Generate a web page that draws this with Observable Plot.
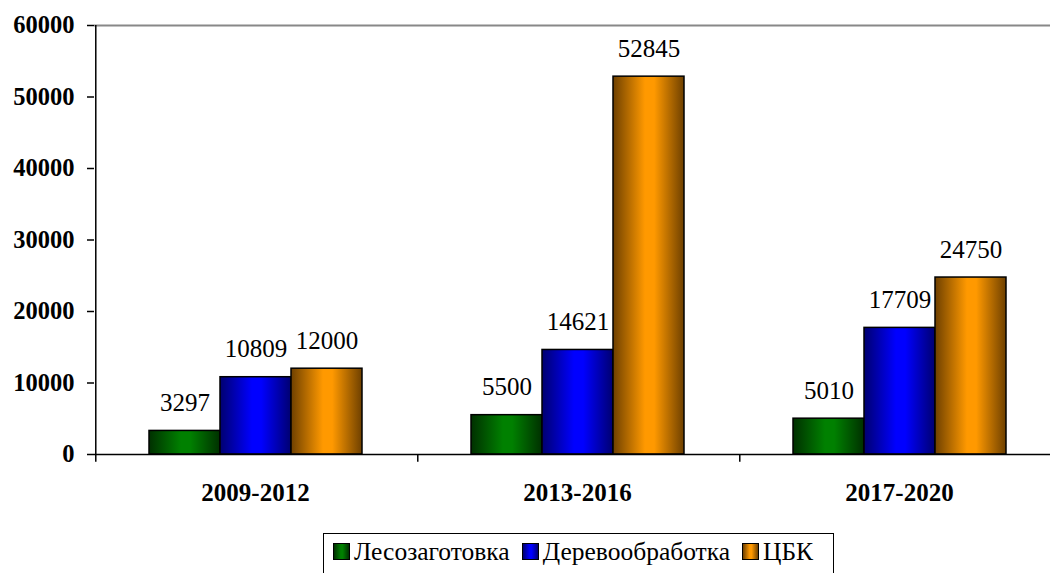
<!DOCTYPE html>
<html>
<head>
<meta charset="utf-8">
<script src="https://cdn.jsdelivr.net/npm/d3@7"></script>
<script src="https://cdn.jsdelivr.net/npm/@observablehq/plot@0.6"></script>
<style>
  html, body { margin: 0; padding: 0; background: #fff; overflow: hidden; width: 1050px; height: 573px; font-family: 'Liberation Serif', serif; }
  #chart svg { display: block; overflow: hidden; }
  #chart svg, #chart svg text { font-family: 'Liberation Serif', serif !important; }
  #legend {
    position: absolute; left: 323px; top: 533px; width: 511px; height: 50px;
    border: 1.5px solid #000; box-sizing: border-box;
    font-family: 'Liberation Serif', serif !important; font-size: 25.5px; line-height: 1; color: #000;
    display: flex; align-items: flex-start; padding: 5px 0 0 9px; gap: 12px; white-space: nowrap;
  }
  #legend .item { display: flex; align-items: center; gap: 4px; }
  #legend .sw { width: 17px; height: 17px; border: 1.5px solid #000; box-sizing: border-box; }
</style>
</head>
<body>
<div id="chart"></div>
<div id="legend"></div>
<script>
const periods = ["2009-2012", "2013-2016", "2017-2020"];
const series = ["Лесозаготовка", "Деревообработка", "ЦБК"];
const lesozagotovka = [3297, 5500, 5010];
const derevoobrabotka = [10809, 14621, 17709];
const cbk = [12000, 52845, 24750];
const yTicks = [0, 10000, 20000, 30000, 40000, 50000, 60000];
const gradIds = ["gGreen", "gBlue", "gOrange"];
const gradColors = [["#003000", "#008000"], ["#000070", "#0000ff"], ["#6e4000", "#ff9900"]];

const values = [lesozagotovka, derevoobrabotka, cbk];
const data = [];
periods.forEach((p, i) => series.forEach((s, j) => data.push({period: p, series: s, value: values[j][i]})));

const width = 1050, marginLeft = 93, marginRight = -10;
const facetW = (width - marginLeft - marginRight) / periods.length;
const padOuter = 0.74;
const step = facetW / (series.length + 2 * padOuter);
const edgeDx = -(step * padOuter + step / 2);

const fillFor = new Map(series.map((s, j) => [s, `url(#${gradIds[j]})`]));
const serif = "'Liberation Serif', serif";

const chart = Plot.plot({
  width, height: 520,
  marginLeft, marginRight, marginTop: 25, marginBottom: 66,
  style: {fontFamily: serif, background: "#fff", color: "#000"},
  fx: {domain: periods, padding: 0, label: null},
  x: {domain: series, paddingInner: 0, paddingOuter: padOuter, axis: null},
  y: {domain: [0, 60000], ticks: yTicks, label: null},
  marks: [
    Plot.ruleY([60000], {stroke: "#888", strokeWidth: 2}),
    Plot.axisY({ticks: yTicks, tickSize: 7, tickPadding: 13, tickFormat: d => String(d), fontSize: 24.5, fontWeight: "bold", label: null, stroke: "#000", strokeWidth: 1.5}),
    Plot.axisFx({anchor: "bottom", tickSize: 0, tickPadding: 29, fontSize: 25, fontWeight: "bold", label: null}),
    Plot.barY(data, {fx: "period", x: "series", y: "value", fill: d => fillFor.get(d.series), stroke: "#000", strokeWidth: 1.5}),
    Plot.ruleY([0], {stroke: "#000", strokeWidth: 1.5}),
    Plot.ruleX(periods, {fx: d => d, x: () => series[0], y1: 0, y2: -1100, dx: edgeDx, stroke: "#000", strokeWidth: 1.5}),
    Plot.ruleX([periods[0]], {fx: d => d, x: () => series[0], y1: 0, y2: 60000, dx: edgeDx, stroke: "#000", strokeWidth: 1.5}),
    Plot.text(data, {fx: "period", x: "series", y: "value", text: d => String(d.value), lineAnchor: "bottom", dy: -20, fontSize: 25, fill: "#000"})
  ]
});

const svg = d3.select(chart.tagName.toLowerCase() === "svg" ? chart : chart.querySelector("svg"));
svg.attr("font-family", serif);
const defs = svg.insert("defs", ":first-child");
gradIds.forEach((id, j) => {
  const [dark, bright] = gradColors[j];
  const g = defs.append("linearGradient").attr("id", id).attr("x1", 0).attr("x2", 1).attr("y1", 0).attr("y2", 0);
  g.append("stop").attr("offset", 0).attr("stop-color", dark);
  g.append("stop").attr("offset", 0.45).attr("stop-color", bright);
  g.append("stop").attr("offset", 0.58).attr("stop-color", bright);
  g.append("stop").attr("offset", 1).attr("stop-color", dark);
});
document.getElementById("chart").appendChild(chart);

const legend = d3.select("#legend");
series.forEach((s, j) => {
  const it = legend.append("div").attr("class", "item");
  const [dark, bright] = gradColors[j];
  it.append("div").attr("class", "sw").style("background", `linear-gradient(to right, ${dark}, ${bright} 45%, ${bright} 58%, ${dark})`);
  it.append("span").text(s);
});
</script>
</body>
</html>
